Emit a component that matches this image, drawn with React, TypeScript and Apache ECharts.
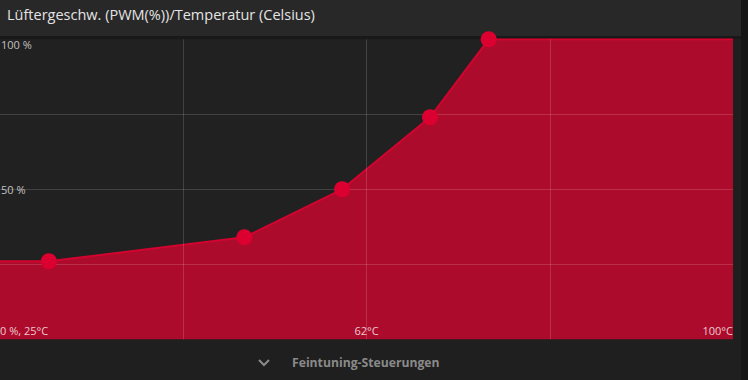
import React, { useEffect, useRef } from "react";
import * as echarts from "echarts";

const TITLE = "Lüftergeschw. (PWM(%))/Temperatur (Celsius)";
const BUTTON_TEXT = "Feintuning-Steuerungen";

// fan curve: temperature (°C) -> fan speed (%)
const temps = [25, 30, 50, 60, 69, 75, 100];
const speeds = [26, 26, 34, 50, 74, 100, 100];
const showPoint = [false, true, true, true, true, true, false];

const xGridValues = [25, 43.75, 62.5, 81.25, 100];
const xLabelValues = [25, 62.5, 100];
const xLabelTexts = ["0 %, 25°C", "62°C", "100°C"];
const yLabelValues = [50, 100];
const yLabelTexts = ["50 %", "100 %"];

export default function App() {
  const ref = useRef<HTMLDivElement>(null);
  useEffect(() => {
    document.body.style.margin = "0";
    const chart = echarts.init(ref.current!, null, { renderer: "svg" });
    const font = "'Open Sans', 'Noto Sans', sans-serif";
    const pts = temps
      .map((t, i) => [t, speeds[i]])
      .filter((_, i) => showPoint[i]);
    chart.setOption({
      animation: false,
      backgroundColor: "#1f1f1f",
      graphic: [
        { type: "rect", z: -10, shape: { x: 0, y: 0, width: 741, height: 36 }, style: { fill: "#282828" } },
        { type: "rect", z: -10, shape: { x: 0, y: 36, width: 741, height: 3 }, style: { fill: "#191919" } },
        { type: "rect", z: -10, shape: { x: 741, y: 0, width: 7, height: 380 }, style: { fill: "#151515" } },
        {
          type: "text", left: 7, top: 7,
          style: { text: TITLE, fill: "#e4e4e4", font: `14.5px ${font}` },
        },
        {
          type: "polyline", shape: { points: [[259, 360], [264, 365], [269, 360]] },
          style: { stroke: "#8a8a8a", lineWidth: 2, fill: "none" },
        },
        {
          type: "text", left: 292, top: 356,
          style: { text: BUTTON_TEXT, fill: "#8a8a8a", font: `bold 12.2px ${font}` },
        },
      ],
      grid: {
        left: 0, top: 39.3, width: 733, height: 300,
        outerBoundsMode: "none", containLabel: false,
        show: true, backgroundColor: "#212121", borderWidth: 0,
      },
      xAxis: {
        type: "value", min: 25, max: 100, z: 3,
        axisLine: { show: false },
        axisTick: { show: false, customValues: xGridValues },
        splitLine: { show: true, showMinLine: false, showMaxLine: false, lineStyle: { color: "rgba(255,255,255,0.15)", width: 1 } },
        axisLabel: {
          inside: true, margin: 3, customValues: xLabelValues,
          alignMinLabel: "left", alignMaxLabel: "right",
          color: "rgba(255,255,255,0.78)", fontSize: 11, fontFamily: font,
          formatter: (v: number) => {
            const i = xLabelValues.indexOf(v);
            return i >= 0 ? xLabelTexts[i] : "";
          },
        },
      },
      yAxis: {
        type: "value", min: 0, max: 100, interval: 25, z: 3,
        axisLine: { show: false },
        axisTick: { show: false },
        splitLine: { show: true, showMinLine: false, showMaxLine: false, lineStyle: { color: "rgba(255,255,255,0.15)", width: 1 } },
        axisLabel: {
          inside: true, margin: 1, customValues: yLabelValues,
          verticalAlignMaxLabel: "top",
          color: "rgba(255,255,255,0.72)", fontSize: 11, fontFamily: font,
          formatter: (v: number) => {
            const i = yLabelValues.indexOf(v);
            return i >= 0 ? yLabelTexts[i] : "";
          },
        },
      },
      series: [
        {
          type: "line",
          z: 2,
          data: temps.map((t, i) => [t, speeds[i]]),
          showSymbol: false,
          lineStyle: { color: "#d2042f", width: 2 },
          areaStyle: { color: "#ad0b2c", opacity: 1 },
        },
        {
          type: "scatter",
          z: 10,
          data: pts,
          symbolSize: 16,
          itemStyle: { color: "#dc0030", opacity: 1 },
        },
      ],
    });
    return () => chart.dispose();
  }, []);
  return <div ref={ref} style={{ width: 748, height: 380 }} />;
}
